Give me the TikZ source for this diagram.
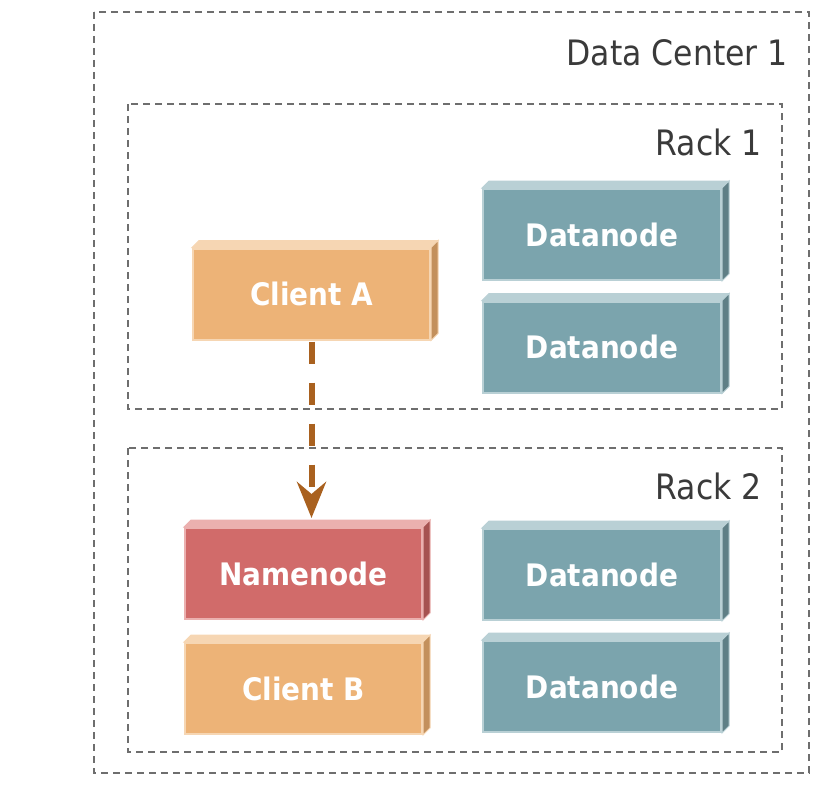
\documentclass[tikz,border=0pt]{standalone}
\usepackage{fontspec}
\setmainfont{DejaVu Sans Condensed}
\usetikzlibrary{arrows.meta}
\definecolor{clientfill}{HTML}{EDB377}
\definecolor{clientlight}{HTML}{F6D6B3}
\definecolor{clientside}{HTML}{C3905C}
\definecolor{datafill}{HTML}{7BA4AD}
\definecolor{datalight}{HTML}{B9D0D5}
\definecolor{dataside}{HTML}{5F7F86}
\definecolor{namefill}{HTML}{D16B6A}
\definecolor{namelight}{HTML}{EBB0AF}
\definecolor{nameside}{HTML}{A65251}
\definecolor{arrowc}{HTML}{A9611F}
\definecolor{dashc}{HTML}{6E6E6E}
\definecolor{labelc}{HTML}{3A3A3A}
\tikzset{
  region/.style={draw=dashc, line width=1.4pt, dash pattern=on 7pt off 5pt},
  regionlabel/.style={text=labelc, font=\fontsize{35}{40}\selectfont, inner sep=0pt, anchor=base east},
  box3d/.style={minimum width=237pt, minimum height=91pt, inner sep=0pt, line width=2pt,
    text=white, font=\bfseries\fontsize{31}{36}\selectfont},
  clientbox/.style={box3d, fill=clientfill, draw=clientlight},
  databox/.style={box3d, fill=datafill, draw=datalight, minimum width=238pt},
  namebox/.style={box3d, fill=namefill, draw=namelight},
  flow/.style={arrowc, line width=6pt, dash pattern=on 22pt off 19pt,
    -{Stealth[length=36pt,width=29pt,inset=12pt]}},
}
\newcommand\boxfaces[3]{%
  \filldraw[fill=#2, draw=#2, line width=1pt] (#1.north west) -- ++(7,-7) -- ([shift={(7,-7)}]#1.north east) -- (#1.north east) -- cycle;
  \filldraw[fill=#3, draw=#2, line width=1pt] (#1.north east) -- ++(7,-7) -- ([shift={(7,-7)}]#1.south east) -- (#1.south east) -- cycle;
}
\begin{document}
\begin{tikzpicture}[x=1pt, y=-1pt]
\useasboundingbox (0,0) rectangle (830,800);
% regions
\draw[region] (94,12) rectangle (809,773);
\node[regionlabel] (dc) at (788,66) {Data Center 1};
\draw[region] (128,104) rectangle (782,409);
\node[regionlabel] (r1) at (762,155) {Rack 1};
\draw[region] (128,448) rectangle (782,752);
\node[regionlabel] (r2) at (762,499) {Rack 2};
% boxes
\node[clientbox] (ca) at (311.5,294) {Client A};
\boxfaces{ca}{clientlight}{clientside}
\node[databox] (d1) at (602,234.5) {Datanode};
\boxfaces{d1}{datalight}{dataside}
\node[databox] (d2) at (602,347) {Datanode};
\boxfaces{d2}{datalight}{dataside}
\node[databox] (d3) at (602,574.5) {Datanode};
\boxfaces{d3}{datalight}{dataside}
\node[databox] (d4) at (602,686.5) {Datanode};
\boxfaces{d4}{datalight}{dataside}
\node[namebox] (nn) at (303.5,573.5) {Namenode};
\boxfaces{nn}{namelight}{nameside}
\node[clientbox] (cb) at (303.5,688.5) {Client B};
\boxfaces{cb}{clientlight}{clientside}
% arrow
\draw[flow, shorten <=1pt, shorten >=9pt] (ca.south) -- (ca.south |- nn.north);
\end{tikzpicture}
\end{document}
